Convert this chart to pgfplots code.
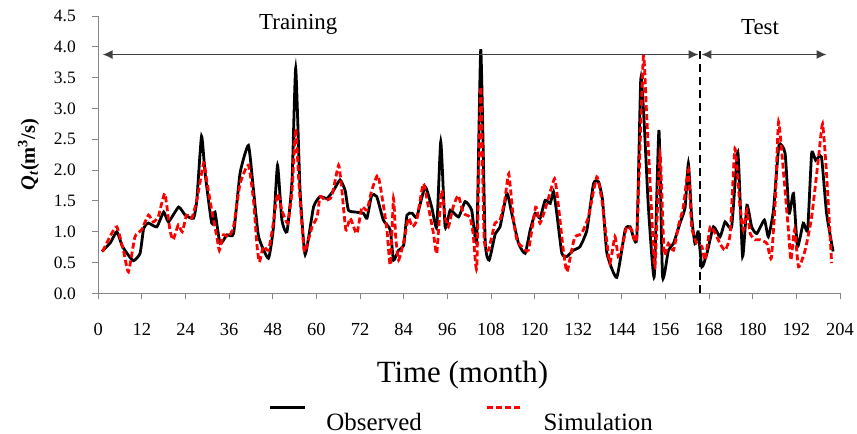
\documentclass[border=0pt]{standalone}
\usepackage{fontspec}
\setmainfont{Liberation Serif}
\usepackage{pgfplots}
\pgfplotsset{compat=1.18}
\usetikzlibrary{arrows.meta}
\definecolor{axgray}{RGB}{134,134,134}
\begin{document}
\begin{tikzpicture}
\begin{axis}[
  name=ax,
  scale only axis,
  width=742bp, height=277.5bp,
  xmin=0, xmax=204, ymin=0, ymax=4.5,
  xtick={0,12,...,204},
  ytick={0,0.5,1,1.5,2,2.5,3,3.5,4,4.5},
  axis lines*=left,
  axis line style={axgray, line width=0.9bp},
  tick style={axgray, line width=0.9bp},
  tick align=outside,
  major tick length=6bp,
  /pgf/number format/assume math mode=true,
  y tick label style={font=\fontsize{17.5}{19}\selectfont, xshift=-13bp, /pgf/number format/.cd, fixed, fixed zerofill, precision=1},
  x tick label style={font=\fontsize{18.5}{20}\selectfont, yshift=-20bp},
  xlabel={Time (month)},
  ylabel={\textbf{\textit{Q}\textsubscript{\textit{t}}(m\textsuperscript{3}/s)}},
  xlabel style={font=\fontsize{31}{34}\selectfont, at={(axis description cs:0.491,-0.294)}, anchor=center},
  ylabel style={font=\fontsize{20.5}{23}\selectfont, at={(axis description cs:-0.094,0.5)}, anchor=center},
  legend columns=2,
  legend style={at={(axis description cs:0.49,-0.455)}, anchor=center, draw=none, fill=none,
    font=\fontsize{25}{27}\selectfont,
    /tikz/every odd column/.append style={column sep=18bp},
    /tikz/every even column/.append style={column sep=62bp}},
  legend image code/.code={\draw[#1] (0bp,15bp) -- (35bp,15bp);},
  clip=false,
]
\addplot[black, line width=2.8bp, smooth, tension=0.3] coordinates {
(1,0.68) (3.3,0.82) (5.1,1.0) (6.5,0.78) (7.9,0.65) (9.7,0.53) (11.5,0.65) (12.5,1.06)
(13.8,1.14) (16.1,1.08) (18,1.32) (19.3,1.16) (22.1,1.40) (23.9,1.27) (26.2,1.22) (27.1,1.51)
(28.4,2.55) (29.4,1.94) (31.2,1.14) (32.1,1.32) (33.5,0.81) (35.4,0.95) (37.2,0.97) (39,1.95)
(41.3,2.40) (42.7,1.67) (44.1,0.92) (46.8,0.57) (48.2,1.08) (49.3,2.08) (50.5,1.19) (51.9,1.0)
(53.3,1.84) (54.3,3.65) (55.5,1.67) (56.9,0.63) (59.2,1.40) (61,1.57) (62.9,1.54) (64.7,1.67)
(66.5,1.84) (67.9,1.67) (68.8,1.35) (70.7,1.32) (72.9,1.30) (73.9,1.22) (75.2,1.59) (76.6,1.57)
(78.4,1.19) (80.3,1.03) (81.2,0.54) (82.6,0.70) (84,0.78) (84.9,1.27) (86.3,1.30) (87.6,1.24)
(89.9,1.73) (91.7,1.40) (93.1,1.08) (94.2,2.46) (95.4,1.08) (96.8,1.35) (99.1,1.24) (100.9,1.49)
(102.7,1.35) (104.1,0.87) (105.2,3.96) (106.4,0.87) (107.5,0.54) (109.2,0.97) (110.5,1.08) (112.4,1.62)
(113.7,1.30) (115.6,0.81) (117.4,0.65) (118.8,1.03) (120.2,1.30) (121.5,1.22) (122.9,1.51) (124.3,1.46)
(125.2,1.65) (126.1,1.30) (127.5,0.65) (128.9,0.60) (130.7,0.70) (132.5,0.76) (134.4,1.03) (136.2,1.78)
(137.6,1.81) (138.7,1.51) (139.9,0.65) (142.6,0.26) (144.9,1.03) (146.3,1.08) (148.1,0.89) (149.2,3.48)
(150.1,2.81) (151.3,1.40) (152.9,0.27) (154.2,2.65) (155.2,0.27) (156.8,0.70) (158.2,0.81) (160,1.14)
(161.4,1.40) (162.3,2.11) (163.2,1.24) (164.1,0.81) (165,1.0) (166,0.43) (167.4,0.65) (169.2,1.08)
(171,0.92) (172.4,1.16) (174.2,1.08) (175.9,2.29) (177.2,0.60) (178.4,1.43) (179.7,1.08) (181.1,0.97)
(183.2,1.19) (184.3,0.92) (185.7,1.35) (187.2,2.40) (188.9,2.27) (190,1.30) (191.2,1.62) (192.3,0.76)
(193.9,1.14) (195.1,1.03) (196.2,2.27) (197.3,2.16) (198.9,2.21) (200.3,1.30) (202.1,0.68)
};
\addlegendentry{Observed}
\addplot[red, line width=2.8bp, dash pattern=on 6bp off 3bp, smooth, tension=0.3] coordinates {
(1.2,0.68) (3.2,0.92) (5.1,1.08) (6.9,0.70) (8.3,0.35) (10.1,0.92) (11.9,1.03) (13.8,1.27)
(15.1,1.16) (16.5,1.24) (18.3,1.62) (19.7,1.03) (20.6,0.87) (22,1.11) (23.1,1.0) (24.3,1.27)
(25.7,1.22) (27.1,1.51) (29.0,2.12) (29.8,1.84) (31.2,1.35) (32.6,0.92) (33.3,0.70) (34.4,0.95)
(35.8,0.92) (37.2,1.08) (39,1.78) (41.3,2.08) (42.7,1.51) (43.6,0.81) (44.3,0.51) (45.4,0.76)
(46.8,0.70) (48,1.08) (49.3,1.62) (50.5,1.35) (52.1,1.14) (53.3,1.67) (54.3,2.67) (55.2,1.78)
(56.6,0.70) (57.4,0.78) (58.8,1.08) (60.2,1.24) (61,1.57) (62.4,1.51) (64.2,1.57) (66.1,2.08)
(67,1.67) (68.1,1.03) (69.3,1.22) (71.1,0.97) (72.5,1.40) (73.9,1.35) (75.2,1.67) (76.9,1.92)
(78.2,1.51) (79.4,1.03) (80.3,0.46) (81.2,1.54) (81.8,0.92) (82.6,0.54) (84,0.84) (85.3,1.22)
(86.4,1.08) (87.6,1.19) (89.4,1.78) (90.8,1.40) (92.2,0.97) (93.1,0.65) (94.4,1.67) (95.4,1.24)
(96.3,1.08) (97.6,1.40) (99,1.59) (100.4,1.30) (102.2,1.24) (103.1,0.97) (104.1,0.43) (105.2,3.35)
(106.1,0.92) (107.3,0.70) (109.1,1.14) (110.5,1.19) (111.8,1.51) (112.9,1.94) (114.2,1.19) (115.2,0.85)
(116.5,0.76) (118.3,0.70) (120.3,1.40) (121.5,1.14) (123.4,1.46) (125.5,1.86) (126.6,1.40) (127.9,0.70)
(128.9,0.35) (130.2,0.70) (131.1,0.92) (132.9,0.97) (134.8,1.24) (137.1,1.89) (138.5,1.51) (139.6,0.97)
(140.7,0.49) (142.1,0.92) (143,0.60) (144.1,0.75) (145.3,1.08) (146.7,1.03) (148.1,0.92) (149.9,3.83)
(150.8,2.92) (152.2,1.30) (153.1,0.43) (154.5,2.27) (155.6,0.65) (156.8,0.81) (158.2,0.70) (159.5,1.08)
(160.9,1.40) (162.3,2.0) (163.2,1.08) (164.6,0.81) (166,0.76) (166.9,0.54) (168.3,1.08) (169.7,0.97)
(171,0.81) (172.4,0.70) (173.8,0.97) (175.1,2.35) (176.5,1.40) (177.4,1.03) (178.4,1.35) (179.3,0.97)
(180.7,0.87) (182.1,0.87) (183.9,0.81) (185.1,0.57) (186.2,1.51) (187.1,2.78) (188.5,1.94) (189.8,1.03)
(190.5,0.54) (191.5,1.03) (192.6,0.43) (194.4,0.70) (196.2,1.24) (198.1,2.21) (199.2,2.75) (200.3,1.94)
(201.7,0.49)
};
\addlegendentry{Simulation}
\draw[black, line width=2.6bp, dash pattern=on 8bp off 5bp] (axis cs:165.5,0) -- (axis cs:165.5,4.0);
\draw[black!75, line width=1.3bp, {Latex[length=10bp,width=9bp]}-{Latex[length=10bp,width=9bp]}] (axis cs:1.2,3.875) -- (axis cs:165.1,3.875);
\draw[black!75, line width=1.3bp, {Latex[length=10bp,width=9bp]}-{Latex[length=10bp,width=9bp]}] (axis cs:165.9,3.875) -- (axis cs:200.3,3.875);
\node[font=\fontsize{23}{25}\selectfont] at (axis cs:55,4.37) {Training};
\node[font=\fontsize{23}{25}\selectfont] at (axis cs:182,4.32) {Test};
\end{axis}
\pgfresetboundingbox
\path[use as bounding box] ([xshift=-98.3bp,yshift=-140.5bp]ax.south west) rectangle ([xshift=17bp,yshift=16bp]ax.north east);
\end{tikzpicture}
\end{document}
